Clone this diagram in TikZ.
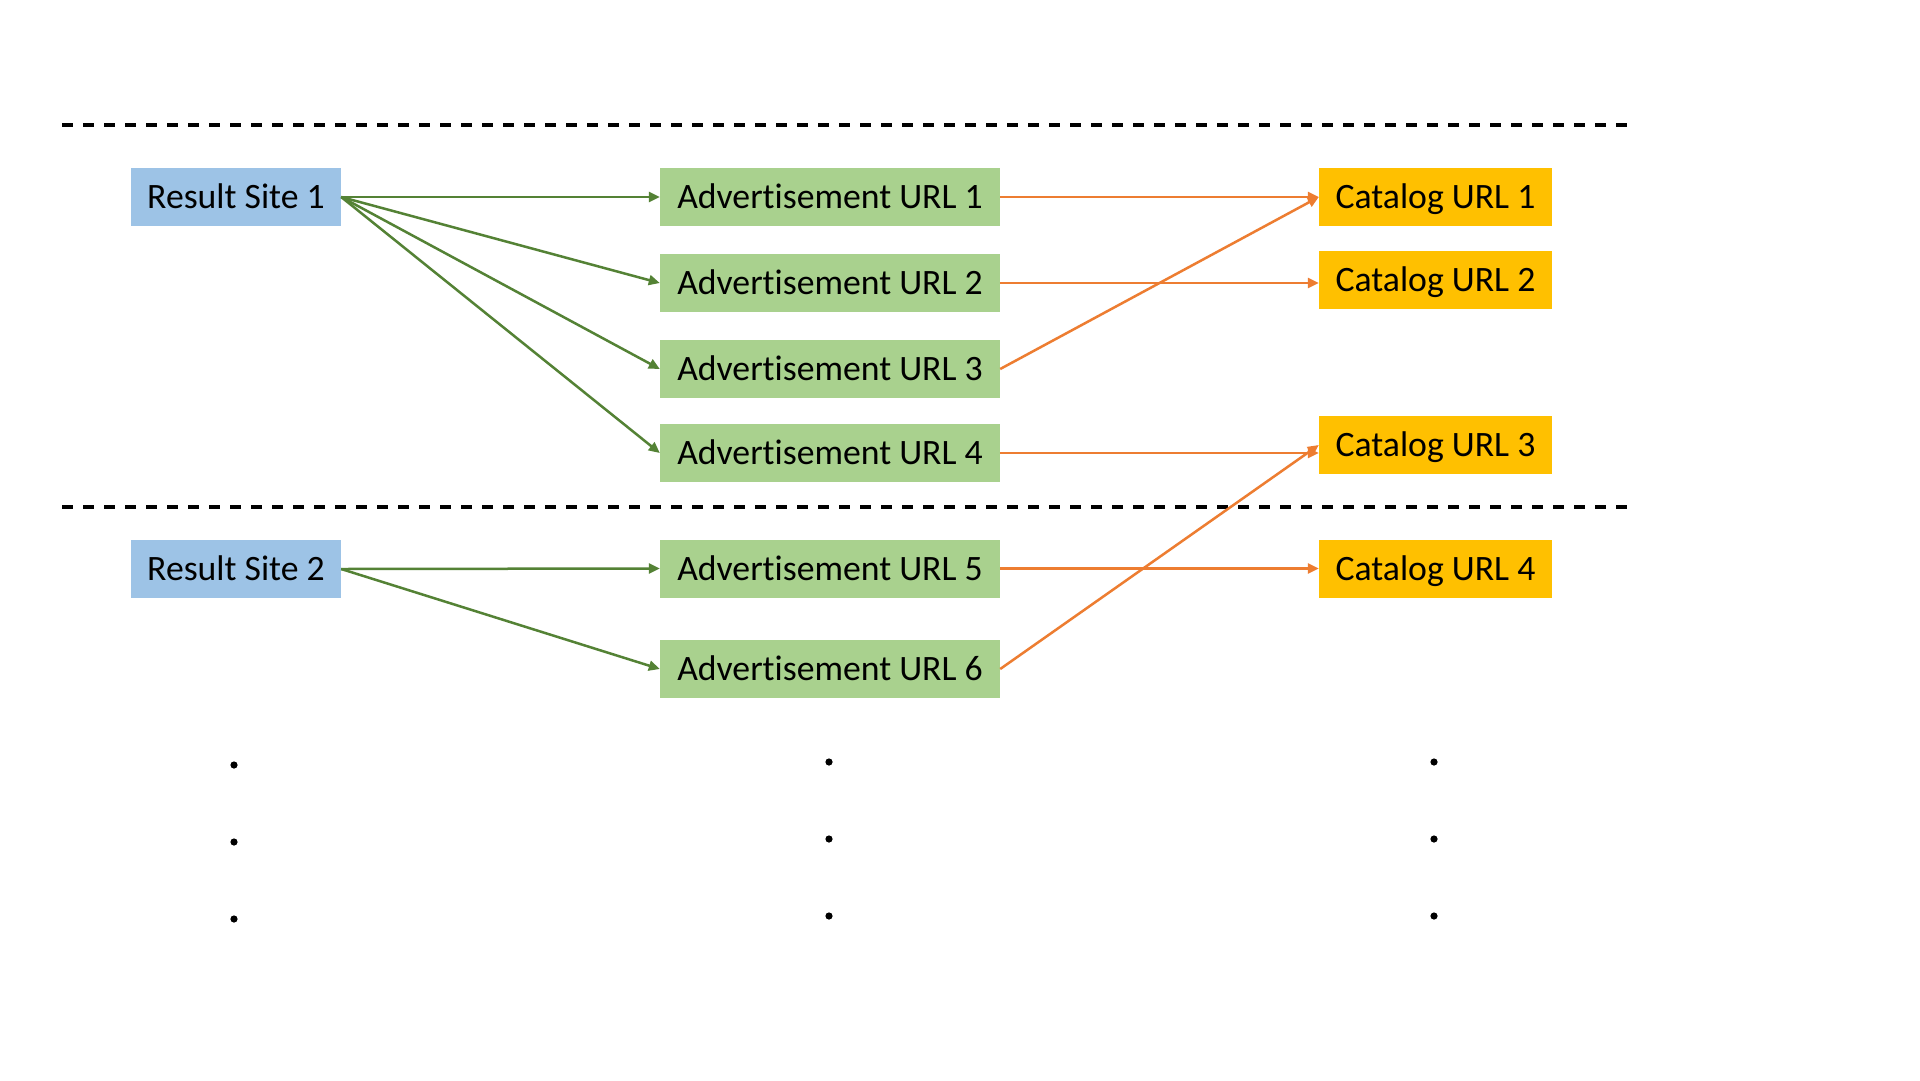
\documentclass[tikz,border=0pt]{standalone}
\usepackage{fontspec}
\setmainfont{Carlito}[Ligatures={NoCommon}]
\usetikzlibrary{arrows.meta}
\definecolor{boxblue}{HTML}{9DC3E6}
\definecolor{boxgreen}{HTML}{A9D18E}
\definecolor{boxgold}{HTML}{FFC000}
\definecolor{linegreen}{HTML}{548235}
\definecolor{lineorange}{HTML}{ED7D31}
\tikzset{
  basebox/.style={inner sep=0pt, minimum height=58pt, text height=23pt, text depth=0pt,
    font=\fontsize{35.7}{42}\selectfont, anchor=center},
  sitebox/.style={basebox, fill=boxblue, minimum width=210pt},
  adbox/.style={basebox, fill=boxgreen, minimum width=340pt},
  catbox/.style={basebox, fill=boxgold, minimum width=233pt},
  greenarrow/.style={draw=linegreen, line width=2.5pt, -{Triangle[length=11pt,width=10pt]}},
  orangearrow/.style={draw=lineorange, line width=2.5pt, -{Triangle[length=11pt,width=10pt]}},
  sepline/.style={draw=black, line width=3.2pt, dash pattern=on 11.3pt off 9.7pt},
  dotmark/.style={fill=black}
}
\begin{document}
\begin{tikzpicture}[x=1pt, y=-1pt]
\useasboundingbox[fill=white] (0,0) rectangle (1920,1080);

% separators
\coordinate (s1a) at (62,125);
\coordinate (s1b) at (1629,125);
\coordinate (s2a) at (62,507);
\coordinate (s2b) at (1629,507);
\draw[sepline] (s1a) -- (s1b);
\draw[sepline] (s2a) -- (s2b);

% nodes
\node[sitebox] (rs1) at (236,197) {Result Site 1};
\node[sitebox] (rs2) at (236,569) {Result Site 2};

\node[adbox] (ad1) at (830,197) {Advertisement URL 1};
\node[adbox] (ad2) at (830,283) {Advertisement URL 2};
\node[adbox] (ad3) at (830,369) {Advertisement URL 3};
\node[adbox] (ad4) at (830,453) {Advertisement URL 4};
\node[adbox] (ad5) at (830,568.5) {Advertisement URL 5};
\node[adbox] (ad6) at (830,669) {Advertisement URL 6};

\node[catbox] (cat1) at (1435.5,197) {Catalog URL 1};
\node[catbox] (cat2) at (1435.5,280) {Catalog URL 2};
\node[catbox] (cat3) at (1435.5,445) {Catalog URL 3};
\node[catbox] (cat4) at (1435.5,568.5) {Catalog URL 4};

% green connectors
\draw[greenarrow] (rs1.east) -- (ad1.west);
\draw[greenarrow] (rs1.east) -- (ad2.west);
\draw[greenarrow] (rs1.east) -- (ad3.west);
\draw[greenarrow] (rs1.east) -- (ad4.west);
\draw[greenarrow] (rs2.east) -- (ad5.west);
\draw[greenarrow] (rs2.east) -- (ad6.west);

% orange connectors
\draw[orangearrow] (ad1.east) -- (cat1.west);
\draw[orangearrow] (ad2.east) -- (ad2.east -| cat2.west);
\draw[orangearrow] (ad3.east) -- (cat1.west);
\draw[orangearrow] (ad4.east) -- (ad4.east -| cat3.west);
\draw[orangearrow] (ad5.east) -- (cat4.west);
\draw[orangearrow] (ad6.east) -- (cat3.west);

% continuation dots
\foreach \yy in {765,842,919} \fill[dotmark] (234,\yy) circle (3.6pt);
\foreach \yy in {762,839,916} \fill[dotmark] (829,\yy) circle (3.6pt);
\foreach \yy in {762,839,916} \fill[dotmark] (1434,\yy) circle (3.6pt);
\end{tikzpicture}
\end{document}
